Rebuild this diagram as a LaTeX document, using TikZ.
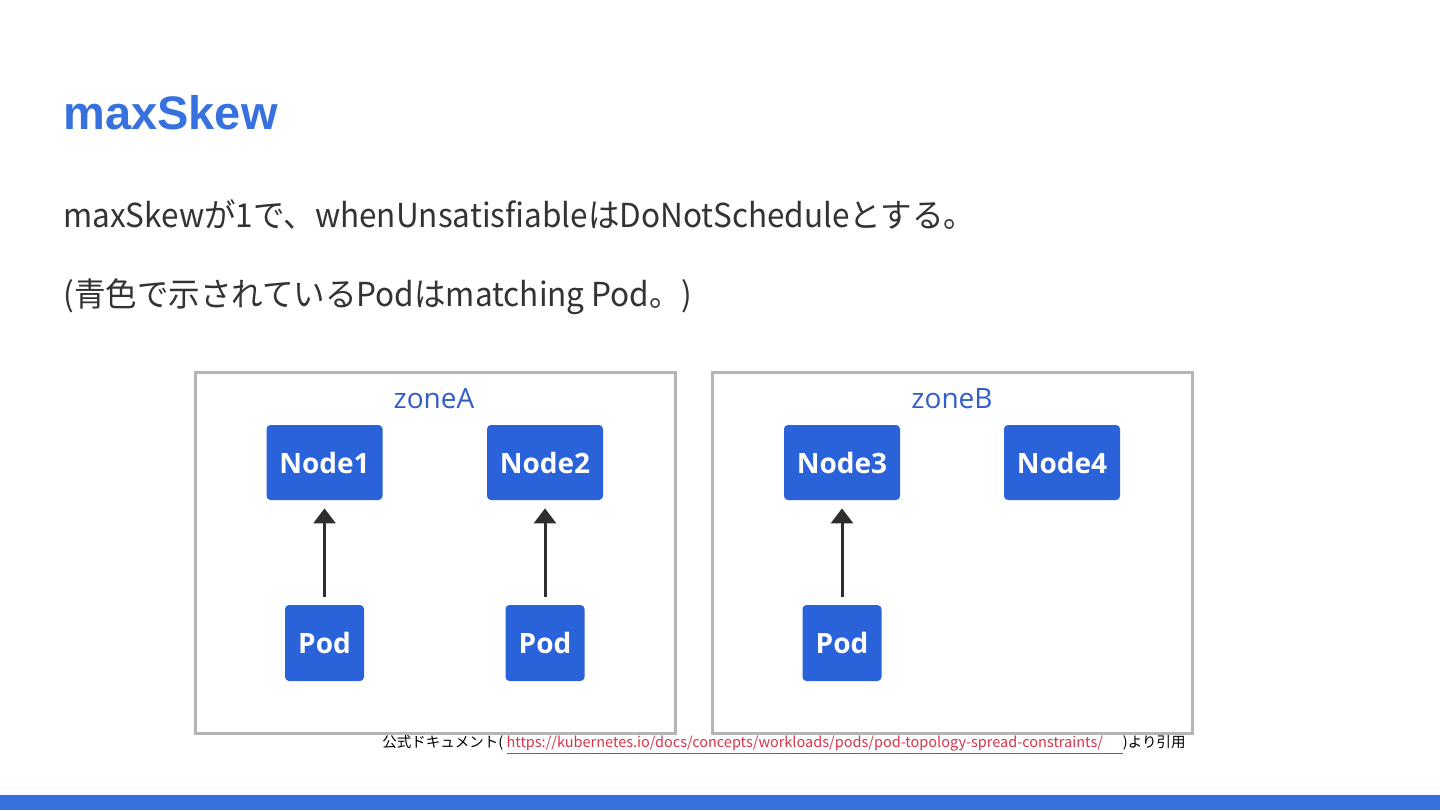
\documentclass[tikz,border=0pt]{standalone}
\usepackage{fontspec}
\usepackage{tikz}
\usetikzlibrary{arrows.meta}
\setmainfont{Liberation Sans}
\newfontfamily\jpfont{Noto Sans CJK JP}
\newfontfamily\diagfont{Open Sans}
\definecolor{titleblue}{HTML}{3671DF}
\definecolor{nodeblue}{HTML}{2A62D9}
\definecolor{zoneblue}{HTML}{335DC9}
\definecolor{zonegray}{HTML}{B5B5B5}
\definecolor{bodygray}{HTML}{333333}
\definecolor{linkred}{HTML}{D8344A}

\begin{document}
\begin{tikzpicture}[x=0.5pt,y=-0.5pt,
    k8snode/.style={fill=nodeblue,rounded corners=2pt,text=white,font=\diagfont\bfseries\fontsize{14}{16}\selectfont,
      minimum width=58pt,minimum height=37.5pt,inner sep=0pt},
    podbox/.style={k8snode,minimum width=39.5pt,minimum height=38pt},
    zonelabel/.style={text=zoneblue,font=\diagfont\fontsize{14}{16}\selectfont},
    bodyline/.style={anchor=base west,inner sep=0pt,text=bodygray,font=\jpfont\fontsize{16.5}{20}\selectfont,xscale=0.955,transform shape},
    runson/.style={-{Triangle[width=11pt,length=7.5pt]},line width=1.5pt,color=black!82,shorten <=4pt,shorten >=4pt}]
    \useasboundingbox[fill=white] (0,0) rectangle (1440,810);
    % Bottom bar of the slide
    \fill[titleblue] (0,795) rectangle (1440,810);
    % Title and text lines
    \node[anchor=base west,inner sep=0pt,text=titleblue,font=\bfseries\fontsize{23.5}{26}\selectfont] (title) at (63,129) {maxSkew};
    \node[bodyline] (line1) at (63,227) {maxSkewが1で、whenUnsatisfiableはDoNotScheduleとする。};
    \node[bodyline] (line2) at (63,306) {(青色で示されているPodはmatching Pod。)};
    % The two zones
    \draw[zonegray,line width=1.5pt] (195,372) rectangle (675,733);
    \draw[zonegray,line width=1.5pt] (712,372) rectangle (1192,733);
    \node[zonelabel] (zA) at (434,399) {zoneA};
    \node[zonelabel] (zB) at (952,399) {zoneB};
    % Nodes
    \node[k8snode] (n1) at (324.5,462.5) {Node1};
    \node[k8snode] (n2) at (545,462.5) {Node2};
    \node[k8snode] (n3) at (842,462.5) {Node3};
    \node[k8snode] (n4) at (1062,462.5) {Node4};
    % Pods
    \node[podbox] (p1) at (324.5,643) {Pod};
    \node[podbox] (p2) at (545,643) {Pod};
    \node[podbox] (p3) at (842,643) {Pod};
    % Pod -> Node
    \draw[runson] (p1) -- (n1);
    \draw[runson] (p2) -- (n2);
    \draw[runson] (p3) -- (n3);
    % Source note
    \node[anchor=base west,inner sep=0pt,font=\jpfont\fontsize{7.25}{8}\selectfont] (src) at (382,747)
      {公式ドキュメント( \textcolor{linkred}{\underline{https://kubernetes.io/docs/concepts/workloads/pods/pod-topology-spread-constraints/\hspace{10pt}}})より引用};
\end{tikzpicture}
\end{document}
